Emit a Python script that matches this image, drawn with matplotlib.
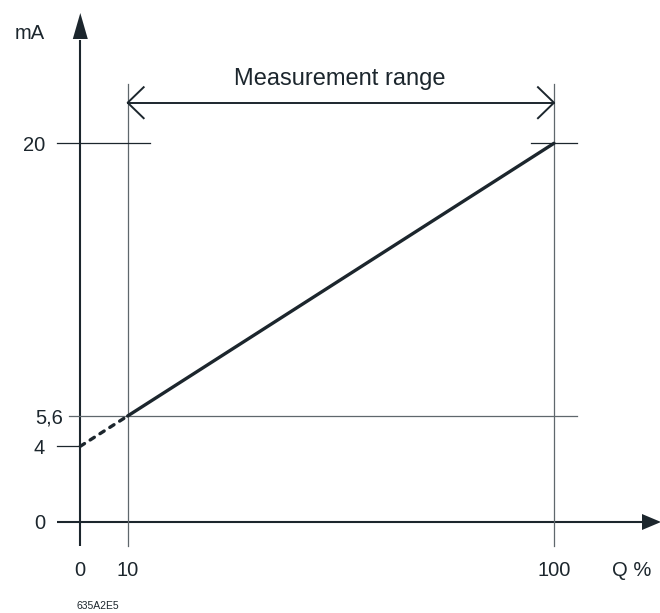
import numpy as np
import matplotlib.pyplot as plt

plt.rcParams['font.family'] = ['Liberation Sans', 'DejaVu Sans']
plt.rcParams['lines.scale_dashes'] = False

# chart data
q_live = [10, 100]          # Q % of the measurement range
ma_live = [5.6, 20]         # output current, mA
q_zero = [0, 10]            # extrapolated part below the range
ma_zero = [4, 5.6]
x_ticks = [0, 10, 100]
x_labels = ["0", "10", "100"]
y_ticks = [0, 4, 5.6, 20]
y_labels = ["0", "4", "5,6", "20"]
range_text = "Measurement range"

# layout in pixels (figure 660x613 at dpi 100)
W, H = 660, 613
X0, Y0 = 80.3, 522.0        # pixel of the origin, y from the top
SX = (554.0 - 127.7) / 90   # px per %
SY = (522.0 - 143.3) / 20   # px per mA

dark = '#1c262d'
grey = '#5f676c'


def dx(p):
    return p / SX


def dy(p):
    return p / SY


def xd(px):
    return (px - X0) / SX


def yd(py):
    return (Y0 - py) / SY


fig = plt.figure(figsize=(W / 100, H / 100), dpi=100)
ax = fig.add_axes([0, 0, 1, 1])
ax.set_xlim(xd(0), xd(W))
ax.set_ylim(yd(H), yd(0))
ax.axis('off')

# axes with arrowheads
ax.plot([xd(57), xd(643)], [0, 0], color=dark, lw=1.5, solid_capstyle='butt')
ax.fill([xd(642), xd(642), xd(661)], [dy(8), -dy(8), 0], color=dark, lw=0)
ax.plot([0, 0], [yd(546), yd(40)], color=dark, lw=1.5, solid_capstyle='butt')
ax.fill([-dx(7.5), dx(7.5), 0], [yd(39), yd(39), yd(13)], color=dark, lw=0)

# vertical guide lines at the range limits
for q in q_live:
    ax.plot([q, q], [yd(546), yd(84)], color=grey, lw=0.9)

# horizontal guides / ticks
ax.plot([xd(57), xd(80)], [ma_zero[0]] * 2, color=dark, lw=0.9)
ax.plot([xd(69), xd(577)], [ma_live[0]] * 2, color=grey, lw=0.9)
ax.plot([xd(57), xd(150)], [ma_live[1]] * 2, color=dark, lw=0.9)
ax.plot([xd(531), xd(577)], [ma_live[1]] * 2, color=dark, lw=0.9)

# characteristic
ax.plot(q_live, ma_live, color=dark, lw=2.4, solid_capstyle='round')
ax.plot(q_zero, ma_zero, color=dark, lw=2.4, dashes=(3.6, 4.8),
        dash_capstyle='round')

# measurement range arrow
ya = yd(102.7)
ax.plot(q_live, [ya, ya], color=dark, lw=1.4)
ax.plot([q_live[0] + dx(16), q_live[0], q_live[0] + dx(16)],
        [ya + dy(15.5), ya, ya - dy(15.5)], color=dark, lw=1.4)
ax.plot([q_live[1] - dx(16), q_live[1], q_live[1] - dx(16)],
        [ya + dy(15.5), ya, ya - dy(15.5)], color=dark, lw=1.4)
ax.text(xd(340), yd(85), range_text, ha='center', va='baseline',
        fontsize=17, color=dark)

# tick labels
fs = 14.5
for v, lab in zip(x_ticks, x_labels):
    ax.text(v, yd(576), lab, ha='center', va='baseline', fontsize=fs, color=dark)
for v, lab in zip(y_ticks, y_labels):
    xr = 63 if lab == "5,6" else 45
    ax.text(xd(xr), v - dy(7.3), lab, ha='right', va='baseline',
            fontsize=fs, color=dark)

ax.text(xd(631.7), yd(576), "Q %", ha='center', va='baseline', fontsize=fs, color=dark)
ax.text(xd(29.5), yd(39.3), "mA", ha='center', va='baseline', fontsize=fs, color=dark)
ax.text(xd(97.7), yd(609), "635A2E5", ha='center', va='baseline',
        fontsize=7.5, color=dark)

fig.savefig('out.png', dpi=100)
